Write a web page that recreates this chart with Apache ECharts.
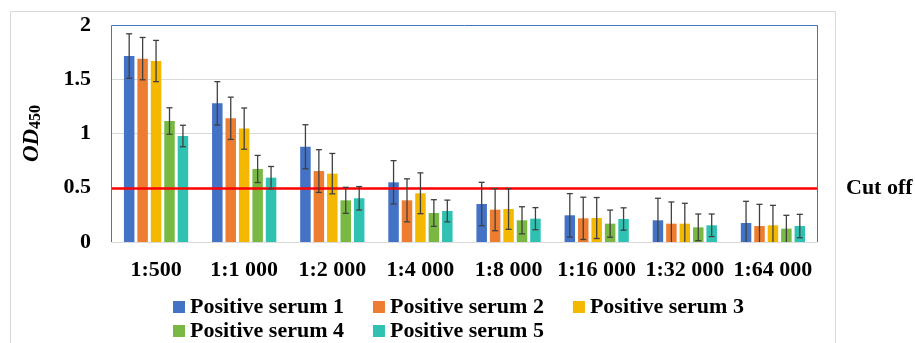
<!DOCTYPE html>
<html>
<head>
<meta charset="utf-8">
<script src="https://cdn.jsdelivr.net/npm/echarts@6/dist/echarts.min.js"></script>
<style>
html,body{margin:0;padding:0;background:#fff;}
#chart{width:915px;height:343px;}
</style>
</head>
<body>
<div id="chart"></div>
<script>
const categories = ['1:500', '1:1 000', '1:2 000', '1:4 000', '1:8 000', '1:16 000', '1:32 000', '1:64 000'];
const seriesNames = ['Positive serum 1', 'Positive serum 2', 'Positive serum 3', 'Positive serum 4', 'Positive serum 5'];
const serum1 = [1.714, 1.278, 0.878, 0.55, 0.35, 0.246, 0.2, 0.175];
const serum2 = [1.69, 1.14, 0.654, 0.384, 0.298, 0.218, 0.169, 0.147];
const serum3 = [1.668, 1.045, 0.63, 0.449, 0.304, 0.221, 0.169, 0.154];
const serum4 = [1.115, 0.673, 0.384, 0.267, 0.2, 0.169, 0.135, 0.123];
const serum5 = [0.977, 0.593, 0.403, 0.286, 0.215, 0.212, 0.154, 0.147];
const err1 = [0.205, 0.2, 0.203, 0.2, 0.2, 0.2, 0.203, 0.2];
const err2 = [0.195, 0.195, 0.197, 0.198, 0.194, 0.195, 0.2, 0.2];
const err3 = [0.19, 0.19, 0.186, 0.188, 0.187, 0.189, 0.188, 0.184];
const err4 = [0.122, 0.125, 0.12, 0.123, 0.125, 0.125, 0.123, 0.123];
const err5 = [0.099, 0.103, 0.108, 0.1, 0.102, 0.103, 0.104, 0.108];
const yTicks = [0, 0.5, 1, 1.5, 2];
const cutoff = 0.5;
const cutoffLabel = 'Cut off';

const means = [serum1, serum2, serum3, serum4, serum5];
const errs = [err1, err2, err3, err4, err5];
const colors = ['#4472C4', '#ED7D31', '#F5B800', '#78B843', '#2FC2B3'];
const FONT = '"Liberation Serif", "Times New Roman", serif';
const BAR_W = 10.5;
const BAR_GAP = 0.28;
const STEP = BAR_W * (1 + BAR_GAP);

const chart = echarts.init(document.getElementById('chart'), null, {renderer: 'canvas'});

const barSeries = means.map((arr, k) => ({
  type: 'bar',
  name: seriesNames[k],
  data: arr,
  barWidth: BAR_W,
  barGap: (BAR_GAP * 100) + '%',
  itemStyle: {color: colors[k]},
  z: 2,
  markLine: k === 0 ? {
    silent: true,
    symbol: ['none', 'none'],
    label: {show: false},
    lineStyle: {color: '#FF0000', width: 2.6, type: 'solid'},
    data: [{yAxis: cutoff}],
    z: 4
  } : undefined
}));

const errSeries = means.map((arr, k) => ({
  type: 'custom',
  name: 'err' + k,
  data: arr.map((m, i) => [i, m, errs[k][i]]),
  encode: {x: 0, y: 1},
  z: 5,
  silent: true,
  renderItem: function (params, api) {
    const i = api.value(0), m = api.value(1), e = api.value(2);
    const lo = Math.max(0, m - e), hi = m + e;
    const pLo = api.coord([i, lo]);
    const pHi = api.coord([i, hi]);
    const x = pLo[0] + (k - 2) * STEP;
    const cap = 3;
    const st = {stroke: '#404040', lineWidth: 1.3};
    const children = [
      {type: 'line', shape: {x1: x, y1: pHi[1], x2: x, y2: pLo[1]}, style: st},
      {type: 'line', shape: {x1: x - cap, y1: pHi[1], x2: x + cap, y2: pHi[1]}, style: st}
    ];
    if (m - e > 0) {
      children.push({type: 'line', shape: {x1: x - cap, y1: pLo[1], x2: x + cap, y2: pLo[1]}, style: st});
    }
    return {type: 'group', children: children};
  }
}));

const legendText = {fontFamily: FONT, fontSize: 22, fontWeight: 'bold', color: '#000'};
const legendBase = {itemWidth: 12, itemHeight: 12, itemGap: 29, icon: 'rect', textStyle: legendText, selectedMode: false, itemStyle: {borderWidth: 0}};

const option = {
  animation: false,
  backgroundColor: '#fff',
  grid: {left: 112, top: 25, right: 98, bottom: 101, show: false},
  legend: [
    Object.assign({data: seriesNames.slice(0, 3), left: 168, top: 291}, legendBase),
    Object.assign({data: seriesNames.slice(3), left: 168, top: 315}, legendBase)
  ],
  xAxis: {
    type: 'category',
    data: categories,
    axisTick: {show: false},
    axisLine: {show: true, lineStyle: {color: '#D9D9D9', width: 1}},
    axisLabel: {interval: 0, margin: 17, fontFamily: FONT, fontSize: 22, fontWeight: 'bold', color: '#000'},
    splitLine: {show: false}
  },
  yAxis: {
    type: 'value',
    min: yTicks[0],
    max: yTicks[yTicks.length - 1],
    interval: yTicks[1] - yTicks[0],
    axisLine: {show: false},
    axisTick: {show: false},
    axisLabel: {margin: 21, fontFamily: FONT, fontSize: 22, fontWeight: 'bold', color: '#000'},
    splitLine: {show: true, showMaxLine: false, showMinLine: false, lineStyle: {color: '#D9D9D9', width: 1}},
    name: '{i|OD}{s|450}',
    nameLocation: 'middle',
    nameRotate: 90,
    nameGap: 68,
    nameTextStyle: {
      rich: {
        i: {fontFamily: FONT, fontSize: 23, fontWeight: 'bold', fontStyle: 'italic', color: '#000', lineHeight: 24},
        s: {fontFamily: FONT, fontSize: 16, fontWeight: 'bold', color: '#000', verticalAlign: 'bottom', lineHeight: 24, padding: [10, 0, 0, 0]}
      }
    }
  },
  series: barSeries.concat(errSeries)
};

chart.setOption(option);

const cutY = chart.convertToPixel({yAxisIndex: 0}, cutoff);
const r = chart.getModel().getComponent('grid', 0).coordinateSystem.getRect();
const L = Math.round(r.x) - 0.5, T = Math.round(r.y) + 0.5;
const R = Math.round(r.x + r.width) + 0.5, B = Math.round(r.y + r.height);
chart.setOption({
  graphic: [
    {type: 'rect', silent: true, z: -10, shape: {x: 10.5, y: 11.5, width: 825, height: 340}, style: {fill: 'none', stroke: '#D9D9D9', lineWidth: 1}},
    {type: 'polyline', silent: true, z: 10, shape: {points: [[L, B], [L, T], [R, T], [R, B]]}, style: {fill: 'none', stroke: '#4472C4', lineWidth: 1}},
    {type: 'text', silent: true, x: 846, y: cutY + 1, style: {text: cutoffLabel, font: 'bold 22px ' + FONT, fill: '#000', verticalAlign: 'middle', align: 'left'}}
  ]
});
</script>
</body>
</html>
